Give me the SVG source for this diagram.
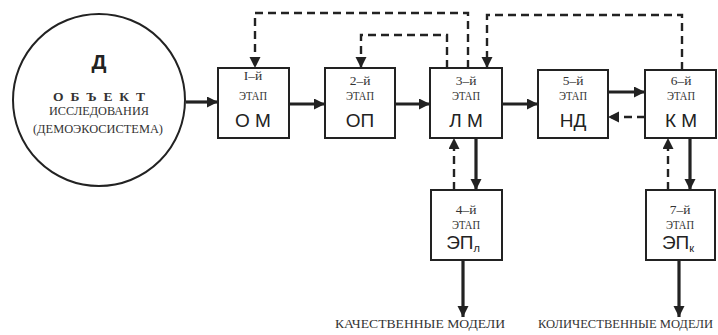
<svg xmlns="http://www.w3.org/2000/svg" width="718" height="335" viewBox="0 0 718 335">
<defs>
<marker id="ah" markerUnits="userSpaceOnUse" markerWidth="12" markerHeight="12" refX="11" refY="5.5" orient="auto">
<path d="M0,0 L11,5.5 L0,11 Z" fill="#222"/>
</marker>
<style>
.box{fill:#fff;stroke:#222;stroke-width:2}
.solid{fill:none;stroke:#222;stroke-width:3.2;marker-end:url(#ah)}
.dash{fill:none;stroke:#222;stroke-width:2.4;stroke-dasharray:8,5;marker-end:url(#ah)}
.sm{font-family:"Liberation Serif","DejaVu Serif",serif;font-size:13.5px;fill:#333;text-anchor:middle}
.big{font-family:"Liberation Sans","DejaVu Sans",sans-serif;font-size:19px;fill:#222;text-anchor:middle}
.lab{font-family:"Liberation Serif","DejaVu Serif",serif;font-size:13px;fill:#333}
</style>
</defs>
<rect width="718" height="335" fill="#fff"/>
<g id="connectors">
<line class="solid" x1="186" y1="102" x2="218" y2="102"/>
<line class="solid" x1="289" y1="104" x2="325" y2="104"/>
<line class="solid" x1="395" y1="104" x2="430" y2="104"/>
<line class="solid" x1="502" y1="104" x2="538" y2="104"/>
<line class="solid" x1="608" y1="92" x2="645" y2="92"/>
<line class="dash" x1="645" y1="117" x2="608" y2="117"/>
<polyline class="dash" points="468,68 468,13 255,13 255,68"/>
<polyline class="dash" points="447,68 447,35 361,35 361,68"/>
<polyline class="dash" points="682,70 682,15 487,15 487,68"/>
<line class="dash" x1="454" y1="190" x2="454" y2="138"/>
<line class="solid" x1="476" y1="138" x2="476" y2="190"/>
<line class="dash" x1="668" y1="190" x2="668" y2="138"/>
<line class="solid" x1="690" y1="138" x2="690" y2="190"/>
<line class="solid" x1="463" y1="260" x2="463" y2="317"/>
<line class="solid" x1="679" y1="260" x2="679" y2="317"/>
</g>
<g id="object">
<circle cx="99" cy="100" r="86" fill="#fff" stroke="#222" stroke-width="2"/>
<text x="99" y="69" font-family="Liberation Sans, DejaVu Sans, sans-serif" font-size="21" font-weight="bold" fill="#222" text-anchor="middle">Д</text>
<text x="99" y="101" class="sm" font-weight="bold" textLength="92" lengthAdjust="spacing">О Б Ъ Е К Т</text>
<text x="99" y="115" class="sm" font-size="14" textLength="100" lengthAdjust="spacingAndGlyphs">ИССЛЕДОВАНИЯ</text>
<text x="98" y="133" class="sm" font-size="14" textLength="130" lengthAdjust="spacingAndGlyphs">(ДЕМОЭКОСИСТЕМА)</text>
</g>
<g id="stage1">
<rect class="box" x="218" y="68" width="71" height="70"/>
<text x="253" y="80" class="sm">I–й</text>
<text x="253" y="100" class="sm" textLength="28" lengthAdjust="spacingAndGlyphs">ЭТАП</text>
<text x="253" y="127" class="big">О М</text>
</g>
<g id="stage2">
<rect class="box" x="325" y="68" width="70" height="70"/>
<text x="360" y="85" class="sm">2–й</text>
<text x="360" y="100" class="sm" textLength="28" lengthAdjust="spacingAndGlyphs">ЭТАП</text>
<text x="360" y="127" class="big">ОП</text>
</g>
<g id="stage3">
<rect class="box" x="430" y="68" width="72" height="70"/>
<text x="466" y="85" class="sm">3–й</text>
<text x="466" y="100" class="sm" textLength="28" lengthAdjust="spacingAndGlyphs">ЭТАП</text>
<text x="466" y="127" class="big">Л М</text>
</g>
<g id="stage5">
<rect class="box" x="538" y="70" width="70" height="68"/>
<text x="573" y="85" class="sm">5–й</text>
<text x="573" y="100" class="sm" textLength="28" lengthAdjust="spacingAndGlyphs">ЭТАП</text>
<text x="573" y="127" class="big">НД</text>
</g>
<g id="stage6">
<rect class="box" x="645" y="70" width="71" height="68"/>
<text x="681" y="85" class="sm">6–й</text>
<text x="681" y="100" class="sm" textLength="28" lengthAdjust="spacingAndGlyphs">ЭТАП</text>
<text x="681" y="127" class="big">К М</text>
</g>
<g id="stage4">
<rect class="box" x="431" y="190" width="71" height="70"/>
<text x="466" y="214" class="sm">4–й</text>
<text x="466" y="229" class="sm" textLength="28" lengthAdjust="spacingAndGlyphs">ЭТАП</text>
<text x="463" y="249" class="big">ЭП<tspan font-size="11" dy="3">л</tspan></text>
</g>
<g id="stage7">
<rect class="box" x="646" y="190" width="69" height="70"/>
<text x="680" y="214" class="sm">7–й</text>
<text x="680" y="229" class="sm" textLength="28" lengthAdjust="spacingAndGlyphs">ЭТАП</text>
<text x="678" y="249" class="big">ЭП<tspan font-size="11" dy="3">к</tspan></text>
</g>
<g id="labels">
<text x="335" y="328" class="lab" textLength="170" lengthAdjust="spacingAndGlyphs">КАЧЕСТВЕННЫЕ  МОДЕЛИ</text>
<text x="538" y="328" class="lab" textLength="175" lengthAdjust="spacingAndGlyphs">КОЛИЧЕСТВЕННЫЕ  МОДЕЛИ</text>
</g>
</svg>
